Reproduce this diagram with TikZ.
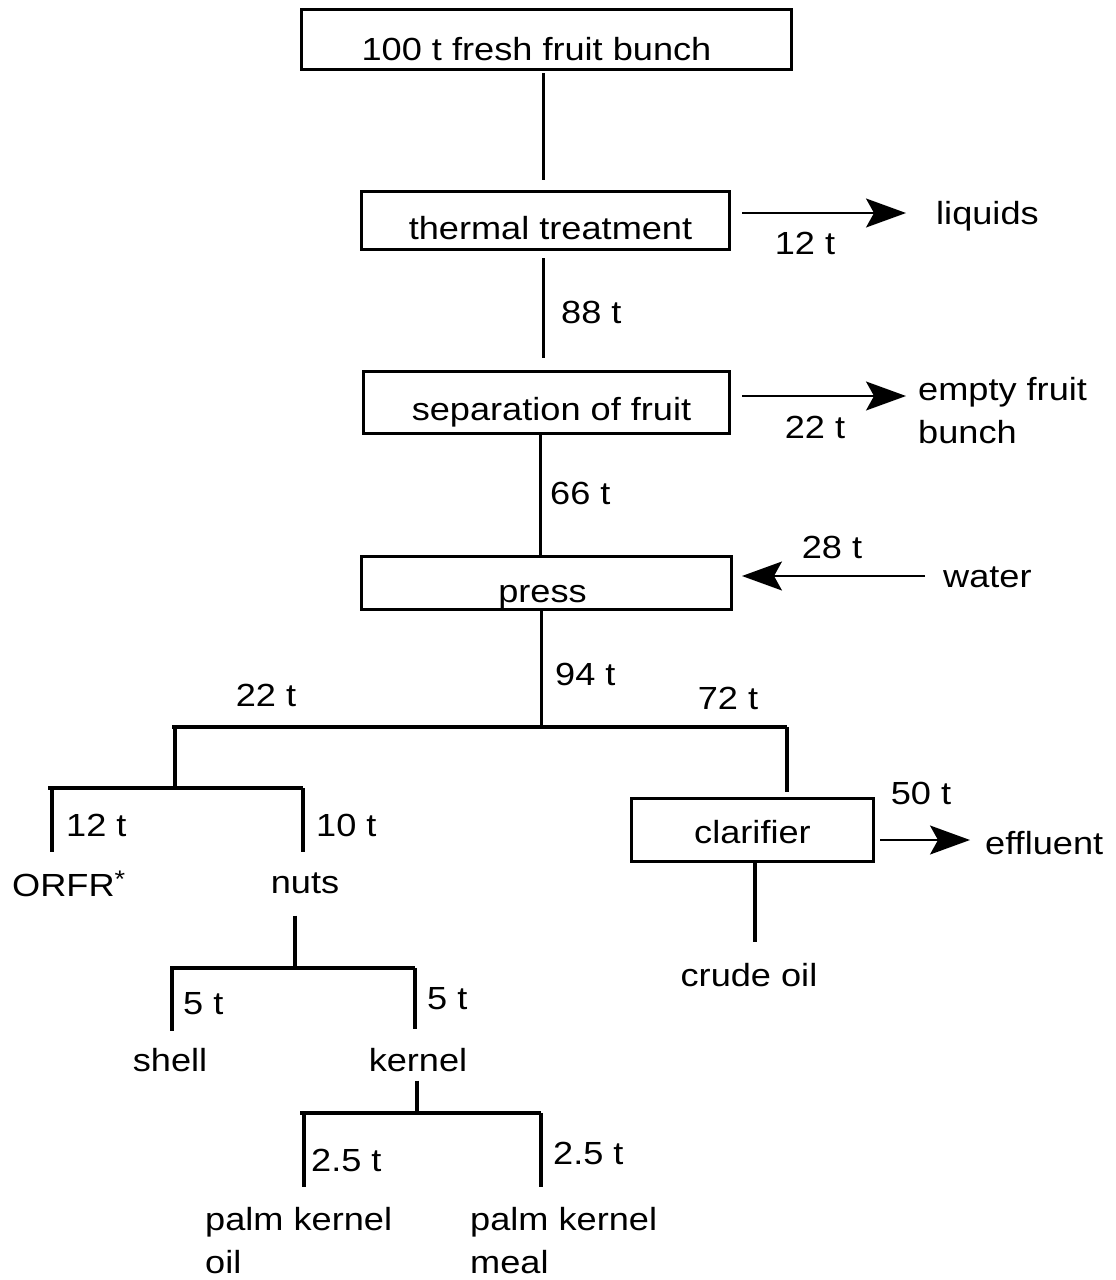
\documentclass[tikz,border=0pt]{standalone}
\usepackage{fontspec}
\setmainfont[FakeStretch=1.13]{Liberation Sans}
\usetikzlibrary{arrows.meta,calc}
\begin{document}
\begin{tikzpicture}[x=1pt,y=-1pt,
  font=\fontsize{32}{43}\selectfont,
  box/.style={draw, line width=3pt, inner sep=0pt, anchor=north west},
  lbl/.style={inner sep=0pt, anchor=base},
  lblw/.style={inner sep=0pt, anchor=base west},
  flow/.style={line width=3pt},
  tree/.style={line width=4pt},
  arr/.style={line width=1.6pt, -{Stealth[length=40pt,width=29pt,inset=8pt]}}]
\useasboundingbox (0,0) rectangle (1116,1280);
\fill[white] (0,0) rectangle (1116,1280);

% boxes
\node[box, minimum width=490pt, text height=51pt, text depth=9pt] (b1) at (300,8) {\hspace*{-20pt}100 t fresh fruit bunch};
\node[box, minimum width=368pt, text height=48pt, text depth=10pt] (b2) at (360,190) {\hspace*{10pt}thermal treatment};
\node[box, minimum width=366pt, text height=49pt, text depth=13pt] (b3) at (362,370) {\hspace*{10pt}separation of fruit};
\node[box, minimum width=370pt, text height=46pt, text depth=7pt] (b4) at (360,555) {\hspace*{-8pt}press};
\node[box, minimum width=242pt, text height=45pt, text depth=18pt] (clar) at (630,797) {clarifier};

% side texts
\node[lblw] (liq) at (936,224) {liquids};
\node[inner sep=0pt, anchor=north west, align=left] (efb) at (918,377) {empty fruit\\bunch};
\node[lblw] (water) at (943,587) {water};
\node[lblw] (eff) at (985,854) {effluent};

% amounts
\node[lbl] (q12a) at (805,254) {12 t};
\node[lblw] (q88) at (561,323) {88 t};
\node[lbl] (q22a) at (815,438) {22 t};
\node[lblw] (q66) at (550,504) {66 t};
\node[lbl] (q28) at (832,558) {28 t};
\node[lblw] (q94) at (555,685) {94 t};
\node[lbl] (q22b) at (266,706) {22 t};
\node[lbl] (q72) at (728,709) {72 t};
\node[lbl] (q50) at (921,804) {50 t};
\node[lblw] (q12b) at (66,836) {12 t};
\node[lblw] (q10) at (316,836) {10 t};
\node[lblw] (q5a) at (183,1014) {5 t};
\node[lblw] (q5b) at (427,1009) {5 t};
\node[lblw] (q25a) at (311,1171) {2.5 t};
\node[lblw] (q25b) at (553,1164) {2.5 t};

% products
\node[lblw] (orfr) at (12,896) {ORFR\raisebox{9pt}{\fontsize{24}{24}\selectfont*}};
\node[lbl] (nuts) at (305,893) {nuts};
\node[lbl] (crude) at (749,986) {crude oil};
\node[lbl] (shell) at (170,1071) {shell};
\node[lbl] (kern) at (418,1071) {kernel};
\node[inner sep=0pt, anchor=north west, align=left] (pko) at (205,1207) {palm kernel\\oil};
\node[inner sep=0pt, anchor=north west, align=left] (pkm) at (470,1207) {palm kernel\\meal};

% main trunk
\coordinate (tx) at (543,0);
\coordinate (tx2) at (540,0);
\draw[flow, shorten >=10pt, shorten <=2pt] (b1.south -| tx) -- (b2.north -| tx);
\draw[flow, shorten <=7pt, shorten >=12pt] (b2.south -| tx) -- (b3.north -| tx);
\draw[flow] (b3.south -| tx2) -- (b4.north -| tx2);

% side arrows
\coordinate (a1s) at (742,213); \coordinate (a1e) at (906,213);
\draw[arr] (a1s) -- (a1e);
\coordinate (a2s) at (742,396); \coordinate (a2e) at (906,396);
\draw[arr] (a2s) -- (a2e);
\coordinate (a3s) at (925,576); \coordinate (a3e) at (742,576);
\draw[arr] (a3s) -- (a3e);
\coordinate (a4s) at (880,840); \coordinate (a4e) at (970,840);
\draw[arr] (a4s) -- (a4e);

% press split
\coordinate (j0) at (541,727);
\coordinate (jL) at (175,727);
\coordinate (jR) at (787,727);
\draw[flow] (b4.south -| j0) -- (j0);
\draw[tree] (172,727) -- (jR);
\draw[tree, shorten >=5pt] (jR) -- (jR |- clar.north);
\coordinate (n1) at (175,788);
\draw[tree] (jL) -- (n1);
\coordinate (n1L) at (52,788);
\coordinate (n1R) at (303,788);
\draw[tree] (48,788) -- (n1R);
\draw[tree, shorten >=18pt] (n1L) -- (n1L |- orfr.north);
\draw[tree, shorten >=20pt] (n1R) -- (n1R |- nuts.north);

% clarifier to crude oil
\coordinate (cx) at (755,0);
\draw[tree, shorten >=21pt] (clar.south -| cx) -- (cx |- crude.north);

% nuts split
\coordinate (n2) at (295,968);
\draw[tree, shorten <=22pt] (nuts.south -| n2) -- (n2);
\coordinate (n2L) at (172,968);
\coordinate (n2R) at (415,968);
\draw[tree] (170,968) -- (n2R);
\draw[tree, shorten >=17pt] (n2L) -- (n2L |- shell.north);
\draw[tree, shorten >=19pt] (n2R) -- (n2R |- kern.north);

% kernel split
\coordinate (n3) at (417,1113);
\draw[tree, shorten <=9pt] (kern.south -| n3) -- (n3);
\coordinate (n3L) at (304,1113);
\coordinate (n3R) at (541,1113);
\draw[tree] (300,1113) -- (n3R);
\draw[tree, shorten >=20pt] (n3L) -- (n3L |- pko.north);
\draw[tree, shorten >=20pt] (n3R) -- (n3R |- pkm.north);
\end{tikzpicture}
\end{document}
